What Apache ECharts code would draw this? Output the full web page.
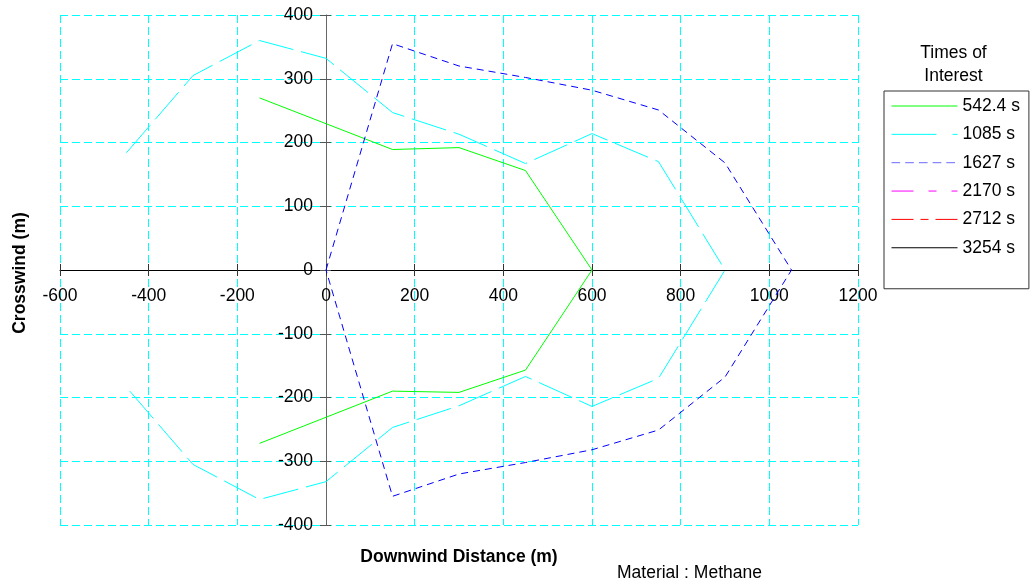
<!DOCTYPE html>
<html>
<head>
<meta charset="utf-8">
<script src="https://cdn.jsdelivr.net/npm/echarts@6/dist/echarts.min.js"></script>
<style>html,body{margin:0;padding:0;background:#fff;}#c{width:1031px;height:587px;}</style>
</head>
<body>
<div id="c"></div>
<script>
// ---- data ----
const seriesNames = ['542.4 s', '1085 s', '1627 s', '2170 s', '2712 s', '3254 s'];
const x542 = [-150, 150, 300, 450, 600, 450, 300, 150, -150];
const y542 = [270, 189, 192, 156, 0, -157, -192, -190, -272];
const x1085 = [-450, -300, -150, 0, 150, 300, 450, 600, 750, 900, 750, 600, 450, 300, 150, 0, -150, -300, -450];
const y1085 = [184, 305, 360, 332, 247, 213, 167, 214, 170, 0, -170, -214, -167, -213, -247, -332, -360, -305, -184];
const x1627 = [0, 150, 300, 450, 600, 750, 900, 1050, 900, 750, 600, 450, 300, 150, 0];
const y1627 = [0, 355, 320, 302, 282, 251, 168, 0, -168, -251, -282, -302, -320, -355, 0];
const x2170 = [], y2170 = [];
const x2712 = [], y2712 = [];
const x3254 = [], y3254 = [];
const xTicks = [-600, -400, -200, 0, 200, 400, 600, 800, 1000, 1200];
const yTicks = [-400, -300, -200, -100, 0, 100, 200, 300, 400];

const pairs = (xs, ys) => xs.map((x, i) => [x, ys[i]]);
const FONT = "'Liberation Sans', Arial, sans-serif";
const FS = 17.5;

// grid geometry (styling): plot box in pixels
const G = {left: 60, top: 15, width: 798, height: 510};
const xMin = xTicks[0], xMax = xTicks[xTicks.length - 1];
const yMin = yTicks[0], yMax = yTicks[yTicks.length - 1];
// distance of the zero lines from the plot edges, to place the axes through the origin
const zeroFromLeft = G.width * (0 - xMin) / (xMax - xMin);
const zeroFromRight = G.width - zeroFromLeft;
const zeroFromBottom = G.height * (0 - yMin) / (yMax - yMin);
const zeroFromTop = G.height - zeroFromBottom;

const chart = echarts.init(document.getElementById('c'), null, {renderer: 'canvas'});

const styles = [
  {color: '#00ff00', type: 'solid', legend: {type: 'solid'}},
  {color: '#00ffff', type: [36, 8], legend: {type: [45, 16]}},
  {color: '#0000ff', type: [7, 5], legend: {type: [8.7, 5], color: '#6b6bff'}},
  {color: '#ff00ff', type: [22, 15, 8, 15], legend: {type: [22, 15, 8, 15]}},
  {color: '#ff0000', type: [22, 7, 8, 7], legend: {type: [22, 7, 8, 7]}},
  {color: '#000000', type: 'solid', legend: {type: 'solid'}}
];
const dataSets = [pairs(x542, y542), pairs(x1085, y1085), pairs(x1627, y1627),
                  pairs(x2170, y2170), pairs(x2712, y2712), pairs(x3254, y3254)];

const xCommon = {type: 'value', min: xMin, max: xMax, interval: 200};
const yCommon = {type: 'value', min: yMin, max: yMax, interval: 100};
const plain = v => String(v);

const option = {
  backgroundColor: '#ffffff',
  animation: false,
  textStyle: {fontFamily: FONT},
  grid: {left: G.left, top: G.top, width: G.width, height: G.height, containLabel: false},
  xAxis: [
    Object.assign({}, xCommon, {
      position: 'bottom', offset: -zeroFromBottom,
      axisLine: {show: true, onZero: false, lineStyle: {color: '#000', width: 1}},
      axisTick: {show: true, length: 6, lineStyle: {color: '#333'}},
      axisLabel: {show: true, margin: 17, color: '#000', fontSize: FS, fontFamily: FONT, formatter: plain},
      splitLine: {show: true, lineStyle: {color: '#00ffff', type: [8, 4], width: 1}}
    }),
    Object.assign({}, xCommon, {
      position: 'top', offset: -zeroFromTop,
      axisLine: {show: false, onZero: false},
      axisTick: {show: true, length: 6, lineStyle: {color: '#333'}},
      axisLabel: {show: false},
      splitLine: {show: false}
    })
  ],
  yAxis: [
    Object.assign({}, yCommon, {
      position: 'left', offset: -zeroFromLeft,
      axisLine: {show: true, onZero: false, lineStyle: {color: '#666', width: 1}},
      axisTick: {show: true, length: 6, lineStyle: {color: '#555'}},
      axisLabel: {show: true, margin: 13, color: '#000', fontSize: FS, fontFamily: FONT, formatter: plain},
      splitLine: {show: true, lineStyle: {color: '#00ffff', type: [8, 4], width: 1}}
    }),
    Object.assign({}, yCommon, {
      position: 'right', offset: -zeroFromRight,
      axisLine: {show: false, onZero: false},
      axisTick: {show: true, length: 5, lineStyle: {color: '#555'}},
      axisLabel: {show: false},
      splitLine: {show: false}
    })
  ],
  legend: {
    orient: 'vertical',
    left: 884, top: 91,
    padding: [6, 9, 32, 7],
    borderColor: '#333', borderWidth: 1,
    itemWidth: 66, itemHeight: 14, itemGap: 10.35,
    itemStyle: {opacity: 0},
    textStyle: {fontSize: FS, fontFamily: FONT, color: '#000', lineHeight: 18},
    data: seriesNames.map((n, i) => ({
      name: n,
      itemStyle: {opacity: 0},
      lineStyle: Object.assign({width: 1, color: styles[i].color, opacity: 1}, styles[i].legend)
    }))
  },
  series: seriesNames.map((n, i) => ({
    name: n, type: 'line', xAxisIndex: 0, yAxisIndex: 0,
    data: dataSets[i], symbol: 'none', showSymbol: false, smooth: false,
    color: styles[i].color,
    lineStyle: {color: styles[i].color, type: styles[i].type, width: 1},
    z: 3
  })),
  graphic: [
    {type: 'text', x: 20, y: 273, rotation: Math.PI / 2,
     style: {text: 'Crosswind (m)', fontSize: FS, fontWeight: 'bold', fontFamily: FONT,
             fill: '#000', textAlign: 'center', textVerticalAlign: 'middle'}},
    {type: 'text', x: 459, y: 557,
     style: {text: 'Downwind Distance (m)', fontSize: FS, fontWeight: 'bold', fontFamily: FONT,
             fill: '#000', textAlign: 'center', textVerticalAlign: 'middle'}},
    {type: 'text', x: 617, y: 573,
     style: {text: 'Material : Methane', fontSize: FS, fontFamily: FONT,
             fill: '#000', textAlign: 'left', textVerticalAlign: 'middle'}},
    {type: 'text', x: 953.5, y: 53,
     style: {text: 'Times of', fontSize: FS, fontFamily: FONT,
             fill: '#000', textAlign: 'center', textVerticalAlign: 'middle'}},
    {type: 'text', x: 953.5, y: 76,
     style: {text: 'Interest', fontSize: FS, fontFamily: FONT,
             fill: '#000', textAlign: 'center', textVerticalAlign: 'middle'}}
  ]
};
chart.setOption(option);
</script>
</body>
</html>
